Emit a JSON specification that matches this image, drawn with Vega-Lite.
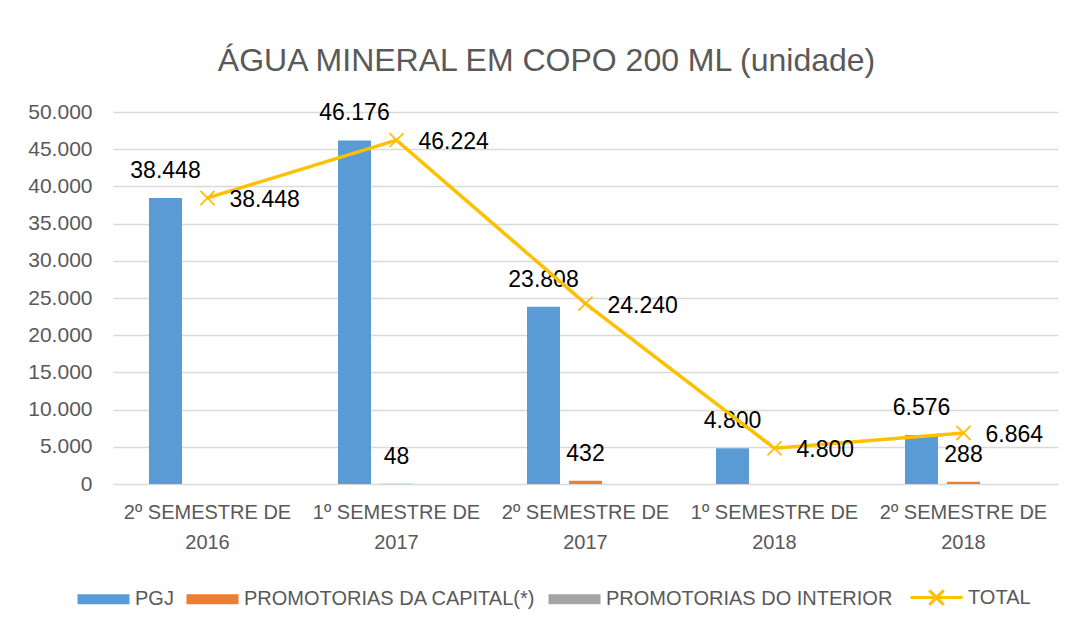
{
  "$schema": "https://vega.github.io/schema/vega-lite/v6.json",
  "autosize": {"type": "none"},
  "width": 945,
  "height": 372,
  "padding": {"left": 113, "top": 112, "right": 14, "bottom": 144},
  "background": "white",
  "title": {
    "text": "ÁGUA MINERAL EM COPO 200 ML (unidade)",
    "font": "Liberation Sans",
    "fontSize": 32,
    "fontWeight": "normal",
    "color": "#595959",
    "anchor": "middle",
    "dx": -39,
    "baseline": "alphabetic",
    "offset": -2
  },
  "config": {
    "locale": {"number": {"decimal": ",", "thousands": ".", "grouping": [3], "currency": ["R$", ""]}},
    "view": {"stroke": null},
    "font": "Liberation Sans"
  },
  "data": {
    "values": [
      {"periodo": "2º SEMESTRE DE 2016", "serie": "PGJ", "valor": 38448},
      {"periodo": "2º SEMESTRE DE 2016", "serie": "TOTAL", "valor": 38448},
      {"periodo": "1º SEMESTRE DE 2017", "serie": "PGJ", "valor": 46176},
      {"periodo": "1º SEMESTRE DE 2017", "serie": "PROMOTORIAS DA CAPITAL(*)", "valor": 48},
      {"periodo": "1º SEMESTRE DE 2017", "serie": "TOTAL", "valor": 46224},
      {"periodo": "2º SEMESTRE DE 2017", "serie": "PGJ", "valor": 23808},
      {"periodo": "2º SEMESTRE DE 2017", "serie": "PROMOTORIAS DA CAPITAL(*)", "valor": 432},
      {"periodo": "2º SEMESTRE DE 2017", "serie": "TOTAL", "valor": 24240},
      {"periodo": "1º SEMESTRE DE 2018", "serie": "PGJ", "valor": 4800},
      {"periodo": "1º SEMESTRE DE 2018", "serie": "TOTAL", "valor": 4800},
      {"periodo": "2º SEMESTRE DE 2018", "serie": "PGJ", "valor": 6576},
      {"periodo": "2º SEMESTRE DE 2018", "serie": "PROMOTORIAS DA CAPITAL(*)", "valor": 288},
      {"periodo": "2º SEMESTRE DE 2018", "serie": "TOTAL", "valor": 6864}
    ]
  },
  "encoding": {
    "x": {
      "field": "periodo",
      "type": "nominal",
      "sort": ["2º SEMESTRE DE 2016", "1º SEMESTRE DE 2017", "2º SEMESTRE DE 2017", "1º SEMESTRE DE 2018", "2º SEMESTRE DE 2018"],
      "scale": {"paddingInner": 0.3333, "paddingOuter": 0.16667},
      "axis": {
        "title": null,
        "labelAngle": 0,
        "domain": false,
        "ticks": false,
        "labelPadding": 18,
        "labelFont": "Liberation Sans",
        "labelFontSize": 20,
        "labelColor": "#595959",
        "labelLineHeight": 30,
        "labelExpr": "[substring(datum.label, 0, 14), substring(datum.label, 15)]"
      }
    },
    "y": {
      "field": "valor",
      "type": "quantitative",
      "scale": {"domain": [0, 50000], "nice": false},
      "axis": {
        "title": null,
        "values": [0, 5000, 10000, 15000, 20000, 25000, 30000, 35000, 40000, 45000, 50000],
        "format": ",d",
        "domain": false,
        "ticks": false,
        "labelPadding": 21,
        "labelFont": "Liberation Sans",
        "labelFontSize": 21,
        "labelColor": "#595959",
        "gridColor": "#d9d9d9",
        "gridWidth": 1.5
      }
    }
  },
  "layer": [
    {
      "transform": [{"filter": "datum.serie !== 'TOTAL'"}],
      "mark": {"type": "bar"},
      "encoding": {
        "xOffset": {
          "field": "serie",
          "type": "nominal",
          "scale": {"domain": ["PGJ", "PROMOTORIAS DA CAPITAL(*)", "PROMOTORIAS DO INTERIOR"], "paddingInner": 0.2143, "paddingOuter": 0.107}
        },
        "color": {
          "field": "serie",
          "type": "nominal",
          "scale": {
            "domain": ["PGJ", "PROMOTORIAS DA CAPITAL(*)", "PROMOTORIAS DO INTERIOR", "TOTAL"],
            "range": ["#5B9BD5", "#ED7D31", "#A5A5A5", "#FFC000"]
          },
          "legend": {
            "title": null,
            "orient": "none",
            "legendX": -37,
            "legendY": 458,
            "direction": "horizontal",
            "symbolType": "M-1,-0.19H1V0.19H-1Z",
            "symbolSize": 2704,
            "labelFont": "Liberation Sans",
            "labelFontSize": 20,
            "labelColor": "#595959",
            "labelOffset": 4,
            "columnPadding": 11,
            "labelLimit": 400,
            "encode": {
              "symbols": {
                "update": {
                  "shape": {"signal": "datum.value === 'TOTAL' ? 'M-1,0H1M-0.28,-0.28L0.28,0.28M-0.28,0.28L0.28,-0.28' : 'M-1,-0.19H1V0.19H-1Z'"},
                  "size": {"value": 2704},
                  "fill": {"signal": "datum.value === 'TOTAL' ? 'transparent' : scale('color', datum.value)"},
                  "stroke": {"signal": "scale('color', datum.value)"},
                  "strokeWidth": {"value": 3},
                  "strokeOpacity": {"signal": "datum.value === 'TOTAL' ? 1 : 0"}
                }
              }
            }
          }
        }
      }
    },
    {
      "transform": [{"filter": "datum.serie !== 'TOTAL'"}],
      "mark": {"type": "text", "baseline": "middle", "dy": -27, "font": "Liberation Sans", "fontSize": 23, "color": "#000000"},
      "encoding": {
        "xOffset": {"field": "serie", "type": "nominal", "scale": {"domain": ["PGJ", "PROMOTORIAS DA CAPITAL(*)", "PROMOTORIAS DO INTERIOR"], "paddingInner": 0.2143, "paddingOuter": 0.107}},
        "text": {"field": "valor", "type": "quantitative", "format": ",d"}
      }
    },
    {
      "transform": [{"filter": "datum.serie === 'TOTAL'"}],
      "mark": {"type": "line", "strokeWidth": 3.5},
      "encoding": {
        "color": {"field": "serie", "type": "nominal"}
      }
    },
    {
      "transform": [{"filter": "datum.serie === 'TOTAL'"}],
      "mark": {"type": "point", "shape": "M-1,-1L1,1M-1,1L1,-1", "size": 200, "filled": false, "strokeWidth": 1.8, "opacity": 1},
      "encoding": {
        "color": {"field": "serie", "type": "nominal"}
      }
    },
    {
      "transform": [{"filter": "datum.serie === 'TOTAL'"}],
      "mark": {"type": "text", "align": "left", "baseline": "middle", "dx": 22, "dy": 2, "font": "Liberation Sans", "fontSize": 23, "color": "#000000"},
      "encoding": {
        "text": {"field": "valor", "type": "quantitative", "format": ",d"}
      }
    }
  ]
}
